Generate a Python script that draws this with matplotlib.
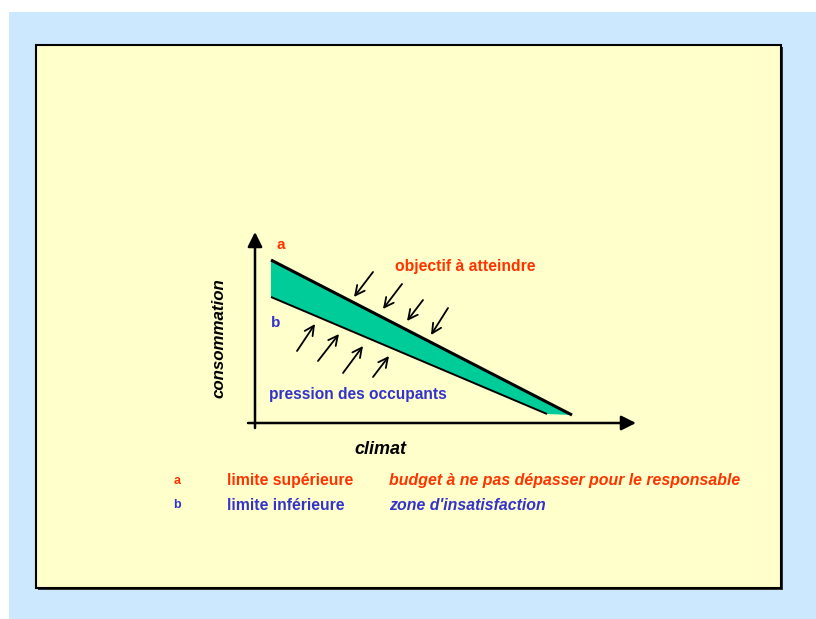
import matplotlib
matplotlib.use('Agg')
import matplotlib.pyplot as plt
from matplotlib.patches import Rectangle, Polygon

plt.rcParams['font.family'] = ['Liberation Sans', 'DejaVu Sans']

RED = '#ff3300'
BLUE = '#3333cc'
TEAL = '#00cc99'

# diagram coordinates (pixel-like, y grows downward)
upper_x = [271, 572]   # limite supérieure (a)
upper_y = [260, 415]
lower_x = [271, 547]   # limite inférieure (b)
lower_y = [297, 414]

# arrows "objectif à atteindre" (tail -> head)
obj_tail = [(373, 272), (402, 284), (423, 300), (448, 308)]
obj_head = [(354, 297), (383, 309), (407, 321), (431, 335)]
# arrows "pression des occupants"
occ_tail = [(297, 351), (318, 361), (343, 373), (373, 377)]
occ_head = [(315, 324), (339, 334), (363, 346), (389, 356)]

legend_keys = ['a', 'b']
legend_names = ['limite supérieure', 'limite inférieure']
legend_notes = ['budget à ne pas dépasser pour le responsable', "zone d'insatisfaction"]
legend_colors = [RED, BLUE]

fig = plt.figure(figsize=(8.16, 6.19), dpi=100)
ax = fig.add_axes([0, 0, 1, 1])
ax.set_xlim(0, 816)
ax.set_ylim(619, 0)
ax.axis('off')

# background panels
ax.add_patch(Rectangle((9, 12), 807, 607, facecolor='#cce8ff', edgecolor='none'))
ax.add_patch(Rectangle((38, 47), 745, 543, facecolor='#333333', edgecolor='none'))
ax.add_patch(Rectangle((36, 45), 745, 543, facecolor='#ffffcc', edgecolor='black', lw=1.5))

# axes of the diagram
ax.annotate('', xy=(255, 232), xytext=(255, 428),
            arrowprops=dict(arrowstyle='-|>', color='black', lw=1.8, mutation_scale=22, shrinkA=0, shrinkB=0))
ax.annotate('', xy=(636, 423), xytext=(248, 423),
            arrowprops=dict(arrowstyle='-|>', color='black', lw=1.8, mutation_scale=22, shrinkA=0, shrinkB=0))

# band between the two limits
band = list(zip(upper_x, upper_y)) + list(zip(lower_x[::-1], lower_y[::-1]))
ax.add_patch(Polygon(band, closed=True, facecolor=TEAL, edgecolor='none'))
ax.plot(upper_x, upper_y, color='black', lw=2.2, solid_capstyle='butt')
ax.plot(lower_x, lower_y, color='black', lw=1.4, solid_capstyle='butt')

for t, h in zip(obj_tail + occ_tail, obj_head + occ_head):
    ax.annotate('', xy=h, xytext=t,
                arrowprops=dict(arrowstyle='->', color='black', lw=1.3, mutation_scale=17, shrinkA=0, shrinkB=0))

ax.text(281, 245, 'a', color=RED, fontsize=11, fontweight='bold', ha='center', va='center')
ax.text(276, 323, 'b', color=BLUE, fontsize=11, fontweight='bold', ha='center', va='center')
ax.text(395, 267, 'objectif à atteindre', color=RED, fontsize=11.3, fontweight='bold', va='center')
ax.text(269, 394, 'pression des occupants', color=BLUE, fontsize=11.2, fontweight='bold', va='center')
ax.text(219, 338, 'consommation', color='black', fontsize=12.2, fontweight='bold', style='italic',
        rotation=90, ha='center', va='center')
ax.text(380, 449, 'climat', color='black', fontsize=13, fontweight='bold', style='italic',
        ha='center', va='center')

# legend lines
for i in range(len(legend_keys)):
    y = 481 + 24 * i
    ax.text(177, y, legend_keys[i], color=legend_colors[i], fontsize=9, fontweight='bold', ha='center', va='center')
    ax.text(227, y, legend_names[i], color=legend_colors[i], fontsize=11.3, fontweight='bold', va='center')
    ax.text(389, y, legend_notes[i], color=legend_colors[i], fontsize=11.4, fontweight='bold',
            style='italic', va='center')

fig.savefig('out.png', dpi=100)
